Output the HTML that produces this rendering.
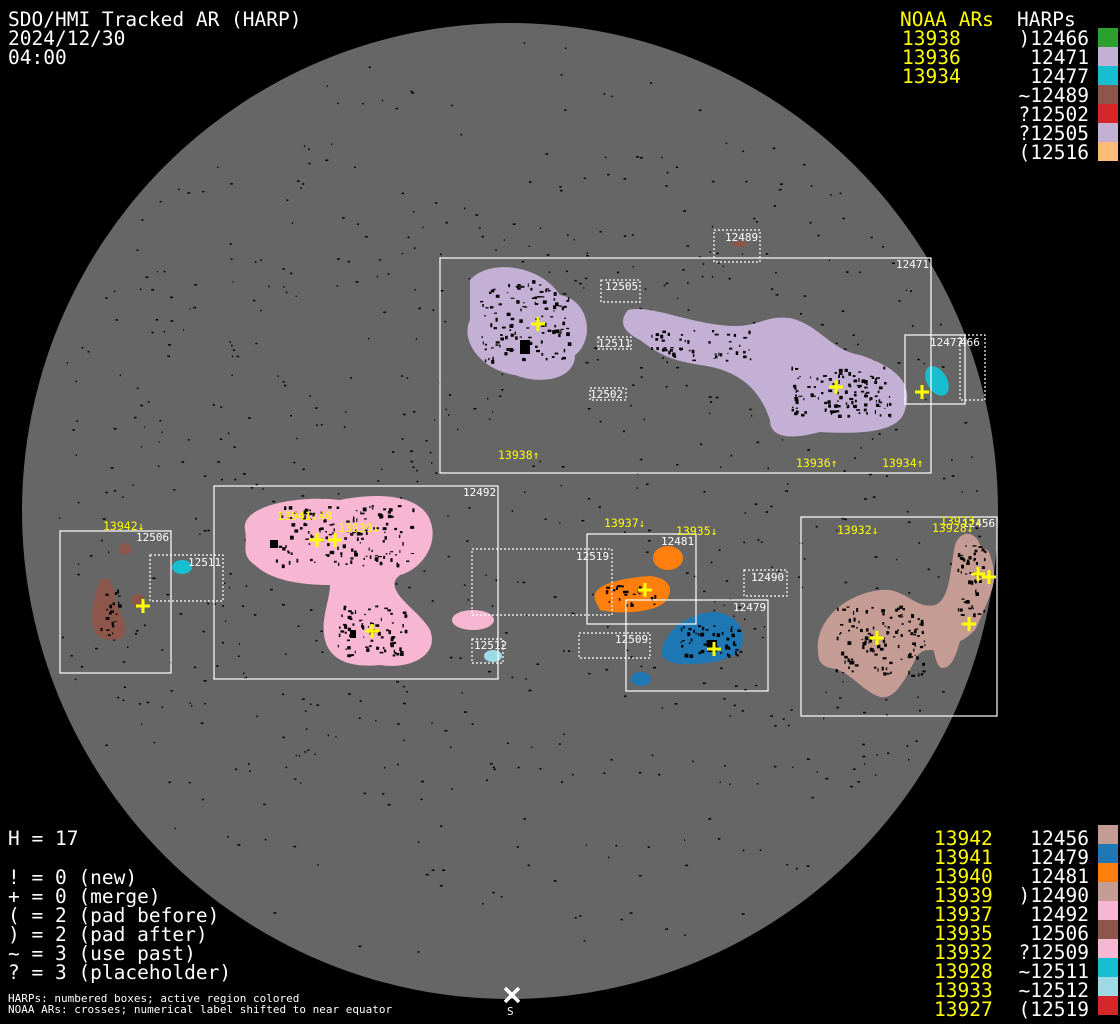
<!DOCTYPE html>
<html><head><meta charset="utf-8"><style>
html,body{margin:0;padding:0;background:#000;width:1120px;height:1024px;overflow:hidden}
svg{display:block}
.t{font-family:"DejaVu Sans Mono","Liberation Mono",monospace;font-size:19.5px;fill:#fff}
.y{fill:#ffff00}
.s{font-family:"DejaVu Sans Mono","Liberation Mono",monospace;font-size:11px;fill:#fff}
.sy{font-family:"DejaVu Sans Mono","Liberation Mono",monospace;font-size:11.5px;fill:#ffff00}
.b{fill:none;stroke:#fff;stroke-width:1.2}
.d{fill:none;stroke:#fff;stroke-width:1.2;stroke-dasharray:2 2}
.c{stroke:#ffff00;stroke-width:3}
</style></head><body>
<svg width="1120" height="1024" viewBox="0 0 1120 1024" xmlns="http://www.w3.org/2000/svg">
<rect width="1120" height="1024" fill="#000"/>
<circle cx="510" cy="511" r="488" fill="#666"/>
<g id="dots" fill="#000"></g>
<!-- purple 12471 -->
<path d="M470 280 C490 258 540 265 560 295 C590 300 595 340 575 355 C575 380 540 385 515 375 C480 370 460 340 470 320 Z" fill="#c5b0d5"/>
<path d="M628 310 C650 305 680 320 720 325 C760 330 760 315 790 318 C820 325 830 350 860 355 C890 365 915 380 905 410 C900 430 870 435 820 432 C790 440 770 438 770 420 C760 390 740 370 700 365 C670 360 660 355 640 340 C620 330 620 320 628 310 Z" fill="#c5b0d5"/>
<ellipse cx="937" cy="381" rx="10" ry="16" transform="rotate(-30 937 381)" fill="#17becf"/>
<ellipse cx="740" cy="244" rx="8" ry="3" fill="#8c564b"/>
<!-- pink 12492 -->
<path d="M245 530 C240 505 300 495 340 500 C380 492 420 495 430 520 C440 545 420 570 400 575 C380 590 420 610 430 630 C440 655 410 670 380 665 C350 668 330 660 325 640 C320 620 330 600 330 585 C300 585 270 580 255 565 C240 555 248 545 245 530 Z" fill="#f7b6d2"/>
<ellipse cx="473" cy="620" rx="21" ry="10" fill="#f7b6d2"/>
<ellipse cx="493" cy="656" rx="9" ry="6" fill="#9edae5"/>
<!-- brown 12506 -->
<path d="M100 580 C110 572 115 590 115 600 C122 615 130 630 122 638 C110 642 95 640 93 625 C90 610 95 595 100 580 Z" fill="#8c564b"/>
<ellipse cx="138" cy="600" rx="7" ry="6" fill="#8c564b"/>
<ellipse cx="125" cy="549" rx="6" ry="6" fill="#8c564b"/>
<ellipse cx="182" cy="567" rx="10" ry="7" fill="#17becf"/>
<!-- orange -->
<ellipse cx="668" cy="558" rx="15" ry="12" fill="#ff7f0e"/>
<path d="M595 600 C590 585 620 578 650 576 C670 578 675 590 665 602 C655 612 620 615 600 610 Z" fill="#ff7f0e"/>
<!-- blue -->
<path d="M662 650 C665 630 690 612 715 612 C740 614 748 635 740 650 C730 662 700 665 680 664 C665 662 660 656 662 650 Z" fill="#1f77b4"/>
<ellipse cx="641" cy="679" rx="10" ry="7" fill="#1f77b4"/>
<!-- tan 12456 -->
<path d="M818 650 C815 625 840 595 880 590 C905 587 915 610 935 605 C950 600 950 570 955 545 C960 530 975 530 980 545 C985 550 988 548 990 555 C995 570 996 580 990 595 C985 608 980 620 975 630 C965 640 960 641 960 641 C955 660 950 668 942 668 C935 665 936 655 933 650 C925 650 920 650 915 660 C905 680 895 700 880 697 C860 690 850 670 830 668 C820 665 818 660 818 650 Z" fill="#c49c94"/>
<g id="spk" fill="#000"></g>
<!-- boxes -->
<rect class="b" x="440" y="258" width="491" height="215"/>
<rect class="d" x="714" y="230" width="46" height="32"/>
<rect class="d" x="601" y="280" width="39" height="22"/>
<rect class="d" x="598" y="337" width="33" height="12"/>
<rect class="d" x="590" y="388" width="36" height="12"/>
<rect class="b" x="905" y="335" width="60" height="69"/>
<rect class="d" x="960" y="335" width="25" height="65"/>
<rect class="b" x="214" y="486" width="284" height="193"/>
<rect class="b" x="60" y="531" width="111" height="142"/>
<rect class="d" x="150" y="555" width="73" height="46"/>
<rect class="d" x="472" y="549" width="140" height="66"/>
<rect class="b" x="587" y="534" width="109" height="90"/>
<rect class="b" x="626" y="600" width="142" height="91"/>
<rect class="d" x="579" y="633" width="71" height="25"/>
<rect class="d" x="744" y="570" width="43" height="26"/>
<rect class="d" x="472" y="639" width="31" height="24"/>
<rect class="b" x="801" y="517" width="196" height="199"/>
<!-- box labels -->
<text class="s" x="896" y="268">12471</text>
<text class="s" x="725" y="241">12489</text>
<text class="s" x="605" y="290">12505</text>
<text class="s" x="598" y="347">12511</text>
<text class="s" x="590" y="398">12502</text>
<text class="s" x="930" y="346">12477</text>
<text class="s" x="960" y="346">466</text>
<text class="s" x="463" y="496">12492</text>
<text class="s" x="136" y="541">12506</text>
<text class="s" x="188" y="566">12511</text>
<text class="s" x="576" y="560">12519</text>
<text class="s" x="661" y="545">12481</text>
<text class="s" x="733" y="611">12479</text>
<text class="s" x="615" y="643">12509</text>
<text class="s" x="751" y="581">12490</text>
<text class="s" x="474" y="649">12512</text>
<text class="s" x="962" y="527">12456</text>
<!-- NOAA labels -->
<text class="sy" x="498" y="459">13938↑</text>
<text class="sy" x="796" y="467">13936↑</text>
<text class="sy" x="882" y="467">13934↑</text>
<text class="sy" x="103" y="530">13942↓</text>
<text class="sy" x="277" y="520">13941↓40</text>
<text class="sy" x="338" y="532">13939↓</text>
<text class="sy" x="604" y="527">13937↓</text>
<text class="sy" x="676" y="535">13935↓</text>
<text class="sy" x="837" y="534">13932↓</text>
<text class="sy" x="940" y="525">13933↓</text>
<text class="sy" x="932" y="532">13928↓</text>
<!-- crosses -->
<g class="c" id="cr"></g>
<!-- X marker -->
<path d="M505 988 L519 1002 M519 988 L505 1002" stroke="#fff" stroke-width="3.5"/>
<text class="s" x="507" y="1015">S</text>
<!-- header -->
<text class="t" x="8" y="26">SDO/HMI Tracked AR (HARP)</text>
<text class="t" x="8" y="45">2024/12/30</text>
<text class="t" x="8" y="64">04:00</text>
<text class="t y" x="900" y="26">NOAA ARs</text>
<text class="t" x="1017" y="26">HARPs</text>
<g class="t y"><text x="902" y="45">13938</text><text x="902" y="64">13936</text><text x="902" y="83">13934</text></g>
<g class="t" text-anchor="end">
<text x="1089" y="45">)12466</text><text x="1089" y="64">12471</text><text x="1089" y="83">12477</text><text x="1089" y="102">~12489</text><text x="1089" y="121">?12502</text><text x="1089" y="140">?12505</text><text x="1089" y="159">(12516</text>
</g>
<rect x="1098" y="28" width="20" height="19" fill="#2ca02c"/>
<rect x="1098" y="47" width="20" height="19" fill="#c5b0d5"/>
<rect x="1098" y="66" width="20" height="19" fill="#17becf"/>
<rect x="1098" y="85" width="20" height="19" fill="#8c564b"/>
<rect x="1098" y="104" width="20" height="19" fill="#d62728"/>
<rect x="1098" y="123" width="20" height="19" fill="#c5b0d5"/>
<rect x="1098" y="142" width="20" height="19" fill="#ffbb78"/>
<!-- bottom left -->
<text class="t" x="8" y="845">H = 17</text>
<text class="t" x="8" y="884">! = 0 (new)</text>
<text class="t" x="8" y="903">+ = 0 (merge)</text>
<text class="t" x="8" y="922">( = 2 (pad before)</text>
<text class="t" x="8" y="941">) = 2 (pad after)</text>
<text class="t" x="8" y="960">~ = 3 (use past)</text>
<text class="t" x="8" y="979">? = 3 (placeholder)</text>
<text class="s" x="8" y="1002">HARPs: numbered boxes; active region colored</text>
<text class="s" x="8" y="1013">NOAA ARs: crosses; numerical label shifted to near equator</text>
<!-- bottom right -->
<g class="t y">
<text x="934" y="845">13942</text><text x="934" y="864">13941</text><text x="934" y="883">13940</text><text x="934" y="902">13939</text><text x="934" y="921">13937</text><text x="934" y="940">13935</text><text x="934" y="959">13932</text><text x="934" y="978">13928</text><text x="934" y="997">13933</text><text x="934" y="1016">13927</text>
</g>
<g class="t" text-anchor="end">
<text x="1089" y="845">12456</text><text x="1089" y="864">12479</text><text x="1089" y="883">12481</text><text x="1089" y="902">)12490</text><text x="1089" y="921">12492</text><text x="1089" y="940">12506</text><text x="1089" y="959">?12509</text><text x="1089" y="978">~12511</text><text x="1089" y="997">~12512</text><text x="1089" y="1016">(12519</text>
</g>
<rect x="1098" y="825" width="20" height="19" fill="#c49c94"/>
<rect x="1098" y="844" width="20" height="19" fill="#1f77b4"/>
<rect x="1098" y="863" width="20" height="19" fill="#ff7f0e"/>
<rect x="1098" y="882" width="20" height="19" fill="#c49c94"/>
<rect x="1098" y="901" width="20" height="19" fill="#f7b6d2"/>
<rect x="1098" y="920" width="20" height="19" fill="#8c564b"/>
<rect x="1098" y="939" width="20" height="19" fill="#f7b6d2"/>
<rect x="1098" y="958" width="20" height="19" fill="#17becf"/>
<rect x="1098" y="977" width="20" height="19" fill="#9edae5"/>
<rect x="1098" y="996" width="20" height="19" fill="#d62728"/>
</svg>
<script>
(function(){
var ns="http://www.w3.org/2000/svg";
var g=document.getElementById("dots");var s=12345;
function r(){s=(s*16807)%2147483647;return s/2147483647;}
function dot(par,x,y,w,h){var e=document.createElementNS(ns,"rect");e.setAttribute("x",x.toFixed(1));e.setAttribute("y",y.toFixed(1));e.setAttribute("width",w.toFixed(1));e.setAttribute("height",h.toFixed(1));par.appendChild(e);}
for(var i=0;i<900;i++){var a=r()*6.283,d=Math.sqrt(r())*470;var x=510+d*Math.cos(a),y=511+d*Math.sin(a);
if(y<180||y>800){if(r()<0.6)continue;}
dot(g,x,y,1+r()*2,1.5);}
var sp=document.getElementById("spk");
var cl=[[525,320,45,40,120],[840,390,50,25,120],[700,345,50,15,50],[345,535,70,30,140],[370,630,35,25,80],[880,640,45,35,120],[970,580,15,35,50],[710,640,30,15,50],[630,595,25,10,25],[110,610,10,25,20]];
cl.forEach(function(c){for(var k=0;k<c[4];k++){var x=c[0]+(r()*2-1)*c[2],y=c[1]+(r()*2-1)*c[3];dot(sp,x,y,1+r()*3,1+r()*3);}});
dot(sp,520,340,10,14);dot(sp,707,640,10,12);dot(sp,270,540,8,8);dot(sp,350,630,6,8);
var cr=[[538,324],[836,387],[922,392],[143,606],[317,540],[335,540],[372,631],[645,590],[714,649],[877,638],[978,574],[989,577],[969,624]];
var c=document.getElementById("cr");
cr.forEach(function(p){var e=document.createElementNS(ns,"path");
e.setAttribute("d","M"+(p[0]-7)+" "+p[1]+"H"+(p[0]+7)+"M"+p[0]+" "+(p[1]-7)+"V"+(p[1]+7));c.appendChild(e);});
})();
</script>
</body></html>
